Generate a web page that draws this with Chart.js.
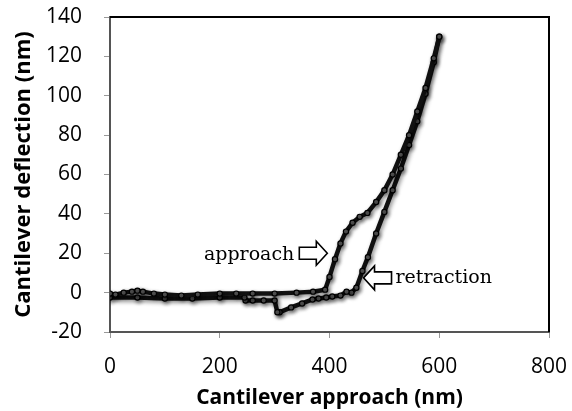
<!DOCTYPE html>
<html>
<head>
<meta charset="utf-8">
<script src="https://cdn.jsdelivr.net/npm/chart.js@4"></script>
<style>
  html, body { margin: 0; padding: 0; background: #fff; }
  #wrap { position: relative; width: 572px; height: 411px; }
</style>
</head>
<body>
<div id="wrap"><canvas id="chart"></canvas></div>
<script>
// approach curve (nm, nm)
const approachX = [0, 10, 25, 40, 50, 60, 80, 100, 130, 160, 200, 230, 260, 300, 340, 370, 392, 400, 410, 420, 430, 442, 455, 469, 485, 500, 515, 530, 545, 560, 575, 590, 600];
const approachY = [-0.5, -1, 0, 0.5, 1, 0.5, -0.5, -1, -1.5, -1, -0.5, -0.5, -0.5, -0.5, 0, 0.5, 1.5, 8, 17, 25, 31, 35.5, 38.5, 40.5, 46, 52, 60, 70, 80, 92, 104, 119, 130];

// retraction curve
const retractX = [600, 590, 575, 560, 545, 530, 515, 500, 485, 470, 460, 449, 440, 431, 420, 405, 394, 380, 369, 350, 330, 309, 305, 300, 280, 260, 247, 245, 200, 150, 100, 50, 0];
const retractY = [130, 117, 101, 87, 75, 63, 52, 41, 30, 18, 11, 2.5, 0, 0.5, -1.5, -2, -2.5, -3, -3.5, -5.5, -7.5, -10, -10, -4, -4, -4, -4, -2.5, -2.5, -3, -3, -2.5, -2.5];

const xTicks = [0, 200, 400, 600, 800];
const yTicks = [-20, 0, 20, 40, 60, 80, 100, 120, 140];

const toPts = (xs, ys) => xs.map((x, i) => ({ x: x, y: ys[i] }));

// blurred shadow under the traces
const shadowPlugin = {
  id: "shadow",
  beforeDatasetsDraw(chart) {
    const ctx = chart.ctx;
    ctx.save();
    ctx.shadowColor = "rgba(0,0,0,0.45)";
    ctx.shadowBlur = 4;
    ctx.shadowOffsetX = 1.5;
    ctx.shadowOffsetY = 2;
  },
  afterDatasetsDraw(chart) {
    chart.ctx.restore();
  },
};

// box round the plot area
const framePlugin = {
  id: "frame",
  afterDraw(chart) {
    const { ctx, chartArea: a } = chart;
    ctx.save();
    ctx.strokeStyle = "#000";
    ctx.lineWidth = 2;
    ctx.beginPath();
    ctx.moveTo(a.left, a.top);
    ctx.lineTo(a.right, a.top);
    ctx.lineTo(a.right, a.bottom);
    ctx.stroke();
    ctx.restore();
  },
};

// hollow block arrow, tip at (tx, ty), dir 1 = right, -1 = left
function blockArrow(ctx, tx, ty, dir) {
  const len = 28, head = 11, shaft = 6, half = 12;
  const b = tx - dir * len, h = tx - dir * head;
  ctx.beginPath();
  ctx.moveTo(tx, ty);
  ctx.lineTo(h, ty - half);
  ctx.lineTo(h, ty - shaft);
  ctx.lineTo(b, ty - shaft);
  ctx.lineTo(b, ty + shaft);
  ctx.lineTo(h, ty + shaft);
  ctx.lineTo(h, ty + half);
  ctx.closePath();
  ctx.fillStyle = "#fff";
  ctx.fill();
  ctx.strokeStyle = "#000";
  ctx.lineWidth = 1.6;
  ctx.stroke();
}

const labelPlugin = {
  id: "labels",
  afterDraw(chart) {
    const { ctx, scales } = chart;
    const px = (v) => scales.x.getPixelForValue(v);
    const py = (v) => scales.y.getPixelForValue(v);
    ctx.save();
    ctx.font = "19px 'DejaVu Serif'";
    ctx.textBaseline = "alphabetic";
    // approach
    const ax = px(396), ay = py(20);
    blockArrow(ctx, ax, ay, 1);
    ctx.fillStyle = "#000";
    ctx.textAlign = "right";
    ctx.fillText("approach", ax - 33, ay + 7);
    // retraction
    const rx = px(462), ry = py(7.5);
    blockArrow(ctx, rx, ry, -1);
    ctx.fillStyle = "#000";
    ctx.textAlign = "left";
    ctx.fillText("retraction", rx + 32, ry + 5);
    ctx.restore();
  },
};

const lineStyle = {
  showLine: true,
  borderColor: "#111",
  borderWidth: 4.5,
  pointRadius: 2.6,
  pointBorderWidth: 1.2,
  pointBorderColor: "#000",
  pointBackgroundColor: "#555",
  tension: 0,
};

new Chart(document.getElementById("chart"), {
  type: "scatter",
  data: {
    datasets: [
      { label: "approach", data: toPts(approachX, approachY), ...lineStyle },
      { label: "retraction", data: toPts(retractX, retractY), ...lineStyle },
    ],
  },
  options: {
    responsive: true,
    maintainAspectRatio: false,
    animation: false,
    layout: { padding: { top: 17, right: 23, left: 0, bottom: 0 } },
    plugins: { legend: { display: false }, tooltip: { enabled: false } },
    scales: {
      x: {
        type: "linear",
        min: 0,
        max: 800,
        afterBuildTicks: (s) => { s.ticks = xTicks.map((v) => ({ value: v })); },
        afterFit: (s) => { s.height = 79; s.paddingLeft = 0; s.paddingRight = 0; },
        grid: { drawOnChartArea: false, drawTicks: true, tickLength: 6, color: "#999" },
        border: { display: true, color: "#555", width: 2 },
        ticks: { color: "#000", padding: 16, maxRotation: 0, font: { family: "Open Sans", size: 21 } },
        title: {
          display: true,
          text: "Cantilever approach (nm)",
          color: "#000",
          padding: { top: 0, bottom: 0 },
          font: { family: "Open Sans", size: 21, weight: "bold" },
        },
      },
      y: {
        type: "linear",
        min: -20,
        max: 140,
        afterBuildTicks: (s) => { s.ticks = yTicks.map((v) => ({ value: v })); },
        afterFit: (s) => { s.width = 110; s.paddingTop = 0; s.paddingBottom = 0; },
        grid: { drawOnChartArea: false, drawTicks: true, tickLength: 6, color: "#999" },
        border: { display: true, color: "#555", width: 2 },
        ticks: { color: "#000", padding: 22, font: { family: "Open Sans", size: 21 } },
        title: {
          display: true,
          text: "Cantilever deflection (nm)",
          color: "#000",
          padding: { top: 11, bottom: 0 },
          font: { family: "Open Sans", size: 22, weight: "bold" },
        },
      },
    },
  },
  plugins: [shadowPlugin, framePlugin, labelPlugin],
});
</script>
</body>
</html>
